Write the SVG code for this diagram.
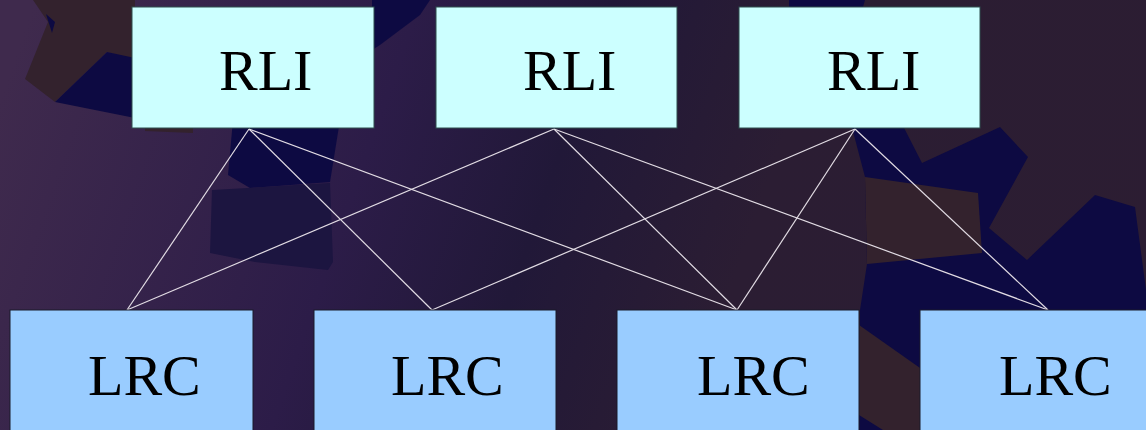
<svg xmlns="http://www.w3.org/2000/svg" width="1146" height="430" viewBox="0 0 1146 430">
  <defs>
    <linearGradient id="bg" gradientUnits="userSpaceOnUse" x1="0" y1="100" x2="1146" y2="500">
      <stop offset="0" stop-color="#3f2a4d"/>
      <stop offset="0.3" stop-color="#2c1c48"/>
      <stop offset="0.45" stop-color="#211838"/>
      <stop offset="0.62" stop-color="#2b1d33"/>
      <stop offset="1" stop-color="#2c1d32"/>
    </linearGradient>
    <style>
      .navy { fill: #0d0a42; }
      .brown { fill: #33222d; }
      .dim { fill: #1c1540; }
      .rli rect { fill: #ccffff; stroke: #2f4f4f; stroke-width: 1; }
      .lrc rect { fill: #99ccff; stroke: #1a1a2a; stroke-width: 1; }
      .lbl { font-family: "Liberation Serif", "Times New Roman", serif; font-size: 58px; fill: #000000; }
      #connectors line { stroke: #e2dce4; stroke-width: 1.2; }
    </style>
  </defs>

  <!-- background -->
  <rect x="0" y="0" width="1146" height="430" fill="url(#bg)"/>
  <g id="background-shapes">
    <polygon class="brown" points="33,0 135,0 135,60 107,52 55,102 25,79 48,22"/>
    <polygon class="navy" points="55,102 107,52 135,58 135,118"/>
    <polygon class="navy" points="46,14 55,22 52,33"/>
    <polygon class="brown" points="145,125 193,125 193,133 145,131"/>
    <polygon class="navy" points="233,120 340,120 330,182 250,188 228,175"/>
    <polygon class="dim" points="212,190 330,183 333,262 328,270 255,262 210,253"/>
    <polygon class="navy" points="372,0 430,0 420,15 380,45 372,50"/>
    <polygon class="navy" points="789,0 865,0 863,7 789,7"/>
    <polygon class="navy" points="850,120 900,120 922,163 1000,127 1028,157 989,228 1027,260 1095,195 1135,207 1146,290 1146,430 858,430 860,310 867,264 865,177"/>
    <polygon class="brown" points="865,177 978,193 982,253 867,264"/>
    <polygon class="brown" points="859,325 920,368 920,430 883,430 859,415"/>
  </g>

  <!-- connectors -->
  <g id="connectors">
    <line x1="249" y1="129" x2="127" y2="310"/>
    <line x1="249" y1="129" x2="432" y2="310"/>
    <line x1="249" y1="129" x2="737" y2="310"/>
    <line x1="554" y1="129" x2="127" y2="310"/>
    <line x1="554" y1="129" x2="737" y2="310"/>
    <line x1="554" y1="129" x2="1048" y2="310"/>
    <line x1="855" y1="129" x2="432" y2="310"/>
    <line x1="855" y1="129" x2="737" y2="310"/>
    <line x1="855" y1="129" x2="1048" y2="310"/>
  </g>

  <!-- RLI nodes -->
  <g id="rli1" class="rli">
    <rect x="132" y="7" width="242" height="121"/>
    <text class="lbl" x="219" y="90">RLI</text>
  </g>
  <g id="rli2" class="rli">
    <rect x="436" y="7" width="241" height="121"/>
    <text class="lbl" x="523" y="90">RLI</text>
  </g>
  <g id="rli3" class="rli">
    <rect x="739" y="7" width="241" height="121"/>
    <text class="lbl" x="827" y="90">RLI</text>
  </g>

  <!-- LRC nodes -->
  <g id="lrc1" class="lrc">
    <rect x="10" y="310" width="243" height="130"/>
    <text class="lbl" x="88" y="395">LRC</text>
  </g>
  <g id="lrc2" class="lrc">
    <rect x="314" y="310" width="242" height="130"/>
    <text class="lbl" x="391" y="395">LRC</text>
  </g>
  <g id="lrc3" class="lrc">
    <rect x="617" y="310" width="242" height="130"/>
    <text class="lbl" x="697" y="395">LRC</text>
  </g>
  <g id="lrc4" class="lrc">
    <rect x="920" y="310" width="242" height="130"/>
    <text class="lbl" x="999" y="395">LRC</text>
  </g>
</svg>
